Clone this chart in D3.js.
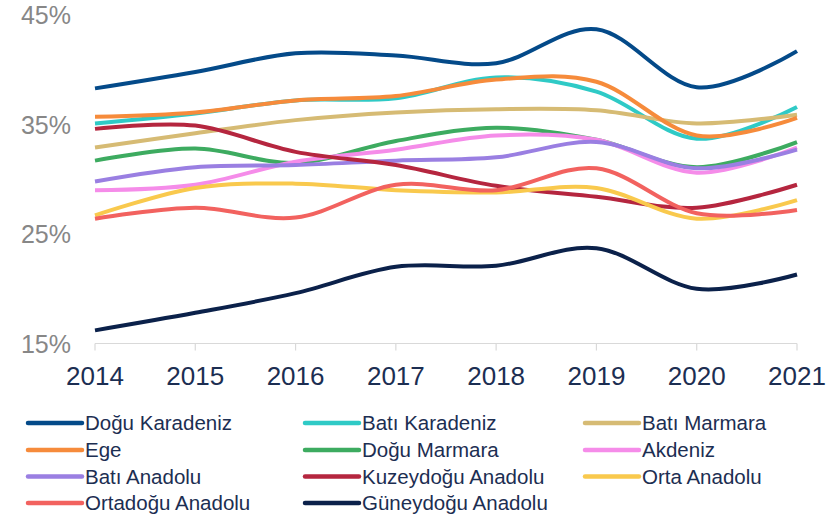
<!DOCTYPE html>
<html>
<head>
<meta charset="utf-8">
<script src="https://cdn.jsdelivr.net/npm/d3@7"></script>
<style>
  body { margin: 0; background: #fff; }
  svg { display: block; }
</style>
</head>
<body>
<svg id="chart" width="836" height="517"></svg>
<script>
const years = [2014, 2015, 2016, 2017, 2018, 2019, 2020, 2021];
const yTicks = [15, 25, 35, 45];

const doguKaradeniz = [38.3, 39.8, 41.5, 41.3, 40.6, 43.7, 38.4, 41.7];
const batiKaradeniz = [35.1, 36.0, 37.2, 37.4, 39.3, 38.0, 33.7, 36.6];
const batiMarmara   = [32.9, 34.2, 35.4, 36.1, 36.4, 36.3, 35.1, 35.9];
const ege           = [35.7, 36.1, 37.2, 37.6, 39.1, 38.9, 34.0, 35.6];
const doguMarmara   = [31.7, 32.8, 31.5, 33.5, 34.7, 33.6, 31.1, 33.4];
const akdeniz       = [29.0, 29.5, 31.6, 32.7, 34.0, 33.6, 30.6, 32.9];
const batiAnadolu   = [29.8, 31.1, 31.3, 31.7, 32.0, 33.4, 31.0, 32.7];
const kuzeydoguAnadolu = [34.6, 34.9, 32.5, 31.3, 29.4, 28.4, 27.4, 29.5];
const ortaAnadolu   = [26.7, 29.2, 29.6, 29.0, 28.8, 29.2, 26.4, 28.1];
const ortadoguAnadolu = [26.4, 27.4, 26.5, 29.5, 29.0, 31.0, 26.9, 27.2];
const guneydoguAnadolu = [16.2, 17.8, 19.6, 22.0, 22.1, 23.7, 20.0, 21.3];

const series = [
  { name: "Doğu Karadeniz", color: "#044a89", values: doguKaradeniz },
  { name: "Batı Karadeniz", color: "#2fcac6", values: batiKaradeniz },
  { name: "Batı Marmara", color: "#d6bb74", values: batiMarmara },
  { name: "Ege", color: "#f68b3b", values: ege },
  { name: "Doğu Marmara", color: "#3dab60", values: doguMarmara },
  { name: "Akdeniz", color: "#f58ce9", values: akdeniz },
  { name: "Batı Anadolu", color: "#9a7fe2", values: batiAnadolu },
  { name: "Kuzeydoğu Anadolu", color: "#b5263f", values: kuzeydoguAnadolu },
  { name: "Orta Anadolu", color: "#f9c94d", values: ortaAnadolu },
  { name: "Ortadoğu Anadolu", color: "#f2625f", values: ortadoguAnadolu },
  { name: "Güneydoğu Anadolu", color: "#0b214a", values: guneydoguAnadolu }
];

const svg = d3.select("#chart");

const x = d3.scaleLinear().domain([2014, 2021]).range([95, 797]);
const y = d3.scaleLinear().domain([15, 45]).range([343.5, 15]);

// x axis baseline + ticks
const xAxis = svg.append("g").attr("transform", "translate(0,343.5)");
xAxis.append("line")
  .attr("x1", x(2014)).attr("x2", x(2021))
  .attr("stroke", "#d9d9d9").attr("stroke-width", 1.2);
xAxis.selectAll(".tick")
  .data(years)
  .enter()
  .append("line")
  .attr("x1", d => x(d)).attr("x2", d => x(d))
  .attr("y1", 0).attr("y2", 7)
  .attr("stroke", "#d9d9d9").attr("stroke-width", 1.2);
xAxis.selectAll(".lbl")
  .data(years)
  .enter()
  .append("text")
  .attr("x", d => x(d))
  .attr("y", 41)
  .attr("text-anchor", "middle")
  .attr("font-family", "Liberation Sans, Arial, sans-serif")
  .attr("font-size", "26px")
  .attr("fill", "#1c2e52")
  .text(d => d);

// y labels
svg.selectAll(".ylbl")
  .data(yTicks)
  .enter()
  .append("text")
  .attr("x", 71)
  .attr("y", d => y(d) + 9)
  .attr("text-anchor", "end")
  .attr("font-family", "Liberation Sans, Arial, sans-serif")
  .attr("font-size", "25px")
  .attr("fill", "#878787")
  .text(d => d + "%");

// lines
const line = d3.line()
  .x((d, i) => x(years[i]))
  .y(d => y(d))
  .curve(d3.curveCardinal.tension(0));

svg.append("g")
  .selectAll("path")
  .data(series)
  .enter()
  .append("path")
  .attr("d", d => line(d.values))
  .attr("fill", "none")
  .attr("stroke", d => d.color)
  .attr("stroke-width", 4)
  .attr("stroke-linecap", "butt");

// legend, 3 columns
const colX = [28, 305, 585];
const rowY = [423, 450, 476.5, 503];
const legend = svg.append("g")
  .selectAll("g")
  .data(series)
  .enter()
  .append("g")
  .attr("transform", (d, i) => `translate(${colX[i % 3]},${rowY[Math.floor(i / 3)]})`);

legend.append("line")
  .attr("x1", 0).attr("x2", 54)
  .attr("stroke", d => d.color)
  .attr("stroke-width", 4.5)
  .attr("stroke-linecap", "round");

legend.append("text")
  .attr("x", 57)
  .attr("y", 7)
  .attr("font-family", "Liberation Sans, Arial, sans-serif")
  .attr("font-size", "20.5px")
  .attr("fill", "#1c2e52")
  .text(d => d.name);
</script>
</body>
</html>
